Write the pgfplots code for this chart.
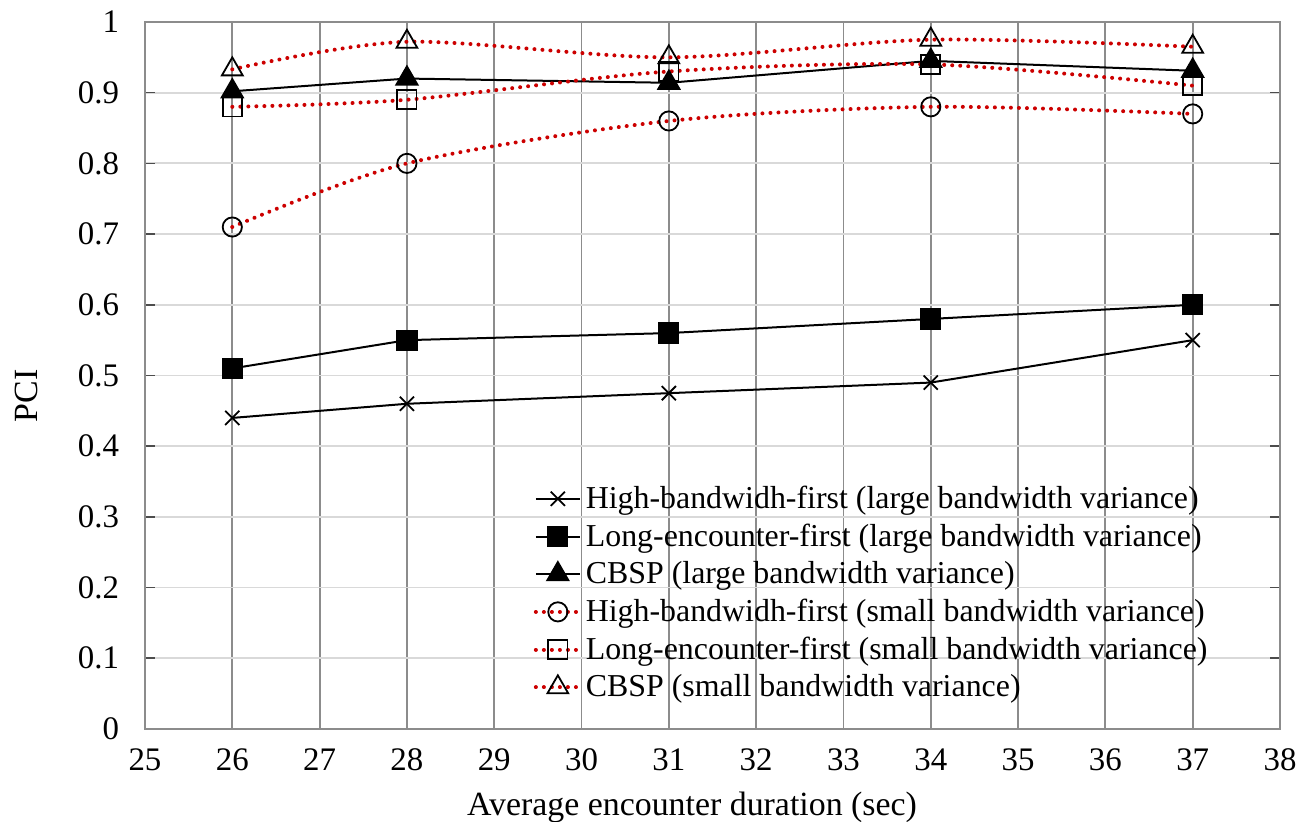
\documentclass[border=0pt]{standalone}
\usepackage{fontspec}
\setmainfont{Liberation Serif}
\usepackage{pgfplots}
\pgfplotsset{compat=1.18}
\definecolor{dred}{RGB}{204,0,0}
\definecolor{vgrid}{RGB}{140,140,140}
\definecolor{hgrid}{RGB}{217,217,217}
\begin{document}
\begin{tikzpicture}
\begin{axis}[
  scale only axis, width=567.5bp, height=353.5bp,
  xmin=25, xmax=38, ymin=0, ymax=1,
  xtick={25,26,...,38},
  ytick={0,0.1,0.2,0.3,0.4,0.5,0.6,0.7,0.8,0.9,1},
  xmajorgrids, ymajorgrids,
  x grid style={draw=vgrid, line width=0.9bp},
  y grid style={draw=hgrid, line width=0.9bp},
  axis line style={draw=vgrid, line width=0.9bp},
  xtick style={draw=none},
  ytick style={draw=black!70, line width=0.8bp},
  tick align=inside, major tick length=5bp,
  /pgf/number format/assume math mode=true,
  tick label style={font=\fontsize{16.5}{19}\selectfont},
  xticklabel style={yshift=-6.5bp},
  yticklabel style={xshift=-9.5bp},
  label style={font=\fontsize{17}{20}\selectfont},
  xlabel={Average encounter duration (sec)},
  ylabel={PCI},
  xlabel style={at={(axis description cs:0.482,0)}, anchor=base, yshift=-43bp},
  ylabel style={at={(axis description cs:-0.1048,0.471)}, anchor=center},
  legend style={at={(0.94,0.035)}, anchor=south east, draw=none, fill=none,
    font=\fontsize{16}{18}\selectfont, row sep=2.2bp, inner sep=0bp},
  legend cell align=left,
  legend image code/.code={\draw[mark repeat=2,mark phase=2,#1] plot coordinates {(0bp,0bp) (11bp,0bp) (22bp,0bp)};},
]
\addplot[black, line width=1bp, mark=x, mark size=5bp, mark options={solid, line width=0.9bp}]
  coordinates {(26,0.44) (28,0.46) (31,0.475) (34,0.49) (37,0.55)};
\addlegendentry{High-bandwidh-first (large bandwidth variance)}
\addplot[black, line width=1bp, mark=square*, mark size=4.8bp, mark options={solid}]
  coordinates {(26,0.51) (28,0.55) (31,0.56) (34,0.58) (37,0.60)};
\addlegendentry{Long-encounter-first (large bandwidth variance)}
\addplot[black, line width=1bp, mark=triangle*, mark size=6bp, mark options={solid}]
  coordinates {(26,0.902) (28,0.92) (31,0.914) (34,0.945) (37,0.931)};
\addlegendentry{CBSP (large bandwidth variance)}
\addplot[dred, smooth, line width=2bp, line cap=round, dash pattern=on 0.01bp off 4bp,
  mark=o, mark size=4.8bp, mark options={solid, draw=black, line width=0.9bp, fill=none}]
  coordinates {(26,0.71) (28,0.80) (31,0.86) (34,0.88) (37,0.87)};
\addlegendentry{High-bandwidh-first (small bandwidth variance)}
\addplot[dred, smooth, line width=2bp, line cap=round, dash pattern=on 0.01bp off 4bp,
  mark=square, mark size=4.8bp, mark options={solid, draw=black, line width=0.9bp, fill=none}]
  coordinates {(26,0.88) (28,0.89) (31,0.93) (34,0.94) (37,0.91)};
\addlegendentry{Long-encounter-first (small bandwidth variance)}
\addplot[dred, smooth, line width=2bp, line cap=round, dash pattern=on 0.01bp off 4bp,
  mark=triangle, mark size=6bp, mark options={solid, draw=black, line width=0.9bp, fill=none}]
  coordinates {(26,0.933) (28,0.972) (31,0.95) (34,0.975) (37,0.965)};
\addlegendentry{CBSP (small bandwidth variance)}
\end{axis}
\pgfresetboundingbox
\path[use as bounding box] ([shift={(-72.5bp,-46.5bp)}]current axis.south west) rectangle ++(655bp,411bp);
\end{tikzpicture}
\end{document}
